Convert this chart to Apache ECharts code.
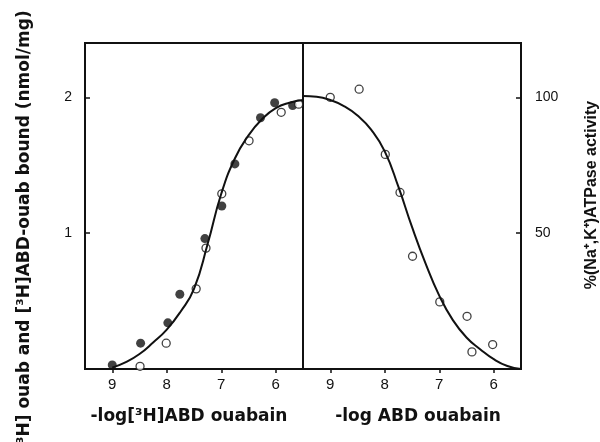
<!DOCTYPE html>
<html>
<head>
<meta charset="utf-8">
<script src="https://cdn.jsdelivr.net/npm/echarts@6/dist/echarts.min.js"></script>
<style>
  html, body { margin: 0; padding: 0; background: #fff; }
  #chart { width: 600px; height: 442px; }
</style>
</head>
<body>
<div id="chart"></div>
<script>
// left panel: binding (nmol/mg) vs -log[3H]ABD ouabain
var bindFilledX = [9.0, 8.48, 7.98, 7.76, 7.30, 6.99, 6.75, 6.28, 6.02, 5.69];
var bindFilledY = [0.03, 0.19, 0.34, 0.55, 0.96, 1.20, 1.51, 1.85, 1.96, 1.94];
var bindOpenX = [8.49, 8.01, 7.46, 7.28, 6.99, 6.49, 5.90, 5.58];
var bindOpenY = [0.02, 0.19, 0.59, 0.89, 1.29, 1.68, 1.89, 1.95];
var bindCurveX = [9.0, 8.75, 8.5, 8.25, 8.0, 7.75, 7.5, 7.25, 7.0, 6.75, 6.5, 6.25, 6.0, 5.75, 5.5];
var bindCurveY = [0.01, 0.05, 0.11, 0.195, 0.29, 0.42, 0.59, 0.92, 1.29, 1.55, 1.72, 1.84, 1.92, 1.96, 1.98];

// right panel: % (Na+,K+)ATPase activity vs -log ABD ouabain
var actOpenX = [9.0, 8.47, 7.99, 7.72, 7.49, 6.99, 6.49, 6.40, 6.02];
var actOpenY = [100, 103, 79, 65, 41.5, 24.7, 19.4, 6.3, 9];
var actCurveX = [9.5, 9.25, 9.0, 8.75, 8.5, 8.25, 8.0, 7.75, 7.5, 7.25, 7.0, 6.75, 6.5, 6.25, 6.0, 5.75, 5.5];
var actCurveY = [100.5, 100.2, 99, 96.8, 93.3, 88.1, 80.1, 67.1, 52.3, 38.8, 27, 18, 11.6, 7.3, 3.6, 1.1, 0];

var xTicks = [6, 7, 8, 9];

function zip(xs, ys) {
    return xs.map(function (x, i) { return [x, ys[i]]; });
}

var myChart = echarts.init(document.getElementById('chart'));

var font = 'Liberation Sans, Arial, Helvetica, sans-serif';
var titleFont = 'DejaVu Sans, Verdana, sans-serif';

function xAxisFor(idx, title, pad) {
    return {
        type: 'value',
        gridIndex: idx,
        min: 5.5,
        max: 9.5,
        inverse: true,
        axisLine: { show: false },
        axisTick: { show: true, inside: false, length: 4, customValues: xTicks, lineStyle: { color: '#111', width: 1.5 } },
        axisLabel: { customValues: xTicks, margin: 8, color: '#111', fontSize: 15, fontFamily: font },
        splitLine: { show: false },
        name: title,
        nameLocation: 'middle',
        nameGap: 39,
        nameTextStyle: { color: '#111', fontSize: 17, fontWeight: 'bold', fontFamily: titleFont, padding: pad }
    };
}

myChart.setOption({
    backgroundColor: '#fff',
    animation: false,
    grid: [
        { left: 85, top: 43, width: 218, height: 326, show: true, borderColor: '#111', borderWidth: 2, backgroundColor: 'transparent' },
        { left: 303, top: 43, width: 218, height: 326, show: true, borderColor: '#111', borderWidth: 2, backgroundColor: 'transparent' }
    ],
    xAxis: [
        xAxisFor(0, '-log[³H]ABD ouabain', [0, 10, 0, 0]),
        xAxisFor(1, '-log ABD ouabain', [0, 0, 0, 12])
    ],
    yAxis: [
        {
            type: 'value', gridIndex: 0, min: 0, max: 2.4,
            axisLine: { show: false },
            axisTick: { show: true, inside: true, length: 5, customValues: [1, 2], lineStyle: { color: '#111', width: 1.5 } },
            axisLabel: { customValues: [1, 2], margin: 13, color: '#111', fontSize: 14, fontFamily: font },
            splitLine: { show: false }
        },
        {
            type: 'value', gridIndex: 1, min: 0, max: 120, position: 'right',
            axisLine: { show: false },
            axisTick: { show: true, inside: true, length: 5, customValues: [50, 100], lineStyle: { color: '#111', width: 1.5 } },
            axisLabel: { customValues: [50, 100], margin: 14, color: '#111', fontSize: 14, fontFamily: font },
            splitLine: { show: false }
        }
    ],
    graphic: [
        {
            type: 'text', x: 25, y: 231, rotation: Math.PI / 2,
            style: {
                text: '[³H] ouab and [³H]ABD-ouab bound (nmol/mg)',
                fill: '#111', font: 'bold 17px ' + titleFont,
                textAlign: 'center', textVerticalAlign: 'middle'
            }
        },
        {
            type: 'text', x: 592, y: 195, rotation: Math.PI / 2,
            style: {
                text: '%(Na⁺,K⁺)ATPase activity',
                fill: '#111', font: 'bold 16px ' + font,
                textAlign: 'center', textVerticalAlign: 'middle'
            }
        }
    ],
    series: [
        {
            type: 'line', xAxisIndex: 0, yAxisIndex: 0,
            data: zip(bindCurveX, bindCurveY),
            smooth: true, showSymbol: false,
            lineStyle: { color: '#111', width: 2 }
        },
        {
            type: 'scatter', xAxisIndex: 0, yAxisIndex: 0,
            data: zip(bindFilledX, bindFilledY),
            symbolSize: 9,
            itemStyle: { color: '#111' }
        },
        {
            type: 'scatter', xAxisIndex: 0, yAxisIndex: 0,
            data: zip(bindOpenX, bindOpenY),
            symbolSize: 8,
            itemStyle: { color: '#fff', borderColor: '#111', borderWidth: 1.3 }
        },
        {
            type: 'line', xAxisIndex: 1, yAxisIndex: 1,
            data: zip(actCurveX, actCurveY),
            smooth: true, showSymbol: false,
            lineStyle: { color: '#111', width: 2 }
        },
        {
            type: 'scatter', xAxisIndex: 1, yAxisIndex: 1,
            data: zip(actOpenX, actOpenY),
            symbolSize: 8,
            itemStyle: { color: '#fff', borderColor: '#111', borderWidth: 1.3 }
        }
    ]
});
</script>
</body>
</html>
